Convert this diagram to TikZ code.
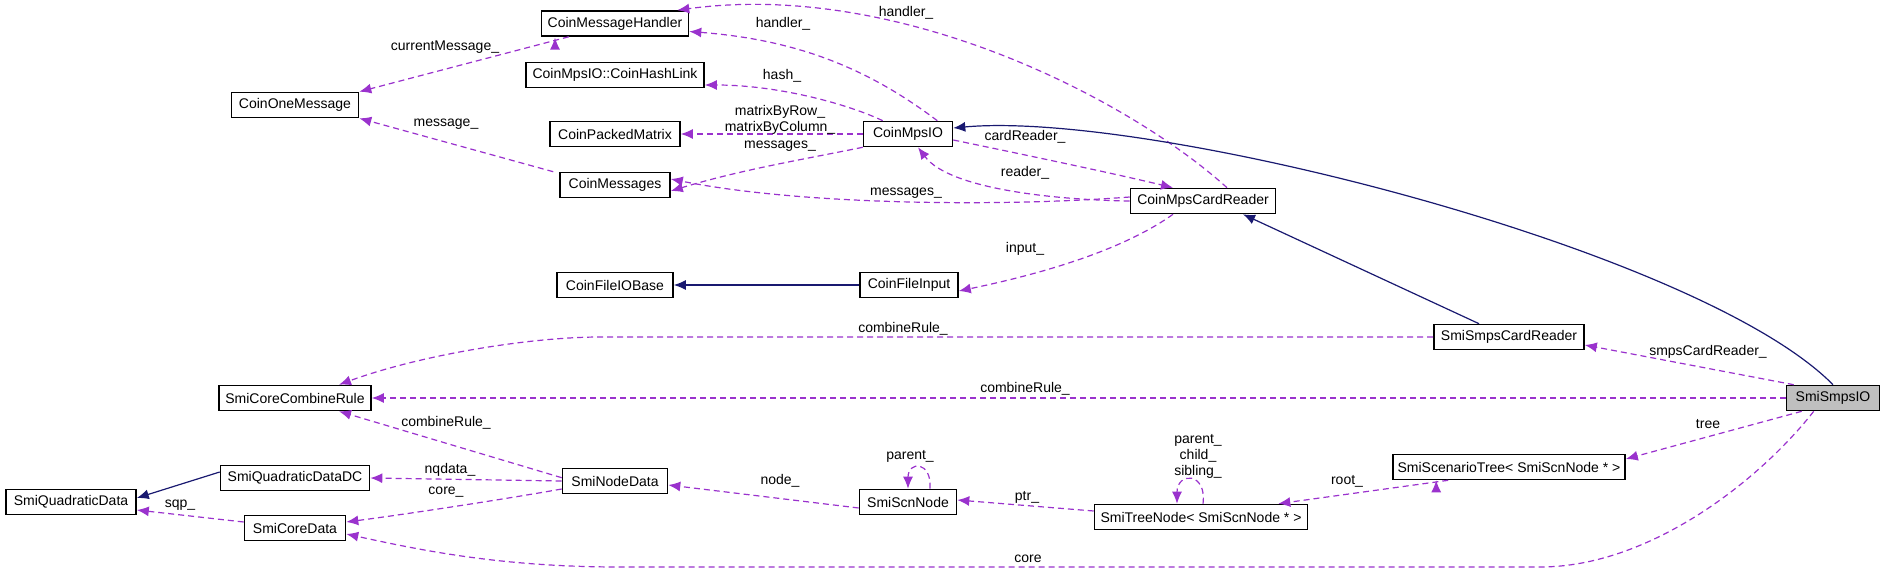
\documentclass[tikz,border=0pt]{standalone}
\usepackage{fontspec}
\setmainfont{Liberation Sans}
\usetikzlibrary{arrows.meta}
\definecolor{dep}{HTML}{9A32CD}
\definecolor{inh}{HTML}{191970}
\begin{document}
\begin{tikzpicture}[x=0.5pt,y=-0.5pt,
  cls/.style={draw,thick,fill=white,minimum height=12.5pt,inner sep=1pt,font=\fontsize{7}{8}\selectfont},
  dep/.style={draw=dep,dash pattern=on 3pt off 2pt,thick,-{Latex[length=6pt,width=5pt]},line width=0.6pt},
  inh/.style={draw=inh,-{Latex[length=6pt,width=5pt]},line width=0.6pt},
  lab/.style={font=\fontsize{7}{8}\selectfont,inner sep=0.5pt,align=center}]
\useasboundingbox (0,0) rectangle (1883,573);
% nodes
\node[cls,minimum width=73.5pt] (mh) at (615,23.5) {CoinMessageHandler};
\node[cls,minimum width=63.5pt] (om) at (295,105) {CoinOneMessage};
\node[cls,minimum width=89pt] (hl) at (615,75) {CoinMpsIO::CoinHashLink};
\node[cls,minimum width=65pt] (pm) at (615,134) {CoinPackedMatrix};
\node[cls,minimum width=55pt] (ms) at (615,185) {CoinMessages};
\node[cls,minimum width=58pt] (fb) at (615,285) {CoinFileIOBase};
\node[cls,minimum width=44.5pt] (io) at (908,134) {CoinMpsIO};
\node[cls,minimum width=72.5pt] (cr) at (1203,201) {CoinMpsCardReader};
\node[cls,minimum width=49pt] (fi) at (909,285) {CoinFileInput};
\node[cls,minimum width=76pt] (ccr) at (295,398) {SmiCoreCombineRule};
\node[cls,minimum width=74.5pt] (qdc) at (295,478) {SmiQuadraticDataDC};
\node[cls,minimum width=65pt] (qd) at (71,502) {SmiQuadraticData};
\node[cls,minimum width=50.5pt] (cd) at (295,528) {SmiCoreData};
\node[cls,minimum width=52.5pt] (nd) at (615,481) {SmiNodeData};
\node[cls,minimum width=48.5pt] (scn) at (908,502) {SmiScnNode};
\node[cls,minimum width=75pt] (scr) at (1509,337) {SmiSmpsCardReader};
\node[cls,minimum width=46.5pt,fill=black!25] (smps) at (1833,398) {SmiSmpsIO};
\node[cls,minimum width=116pt] (st) at (1509,467) {SmiScenarioTree< SmiScnNode * >};
\node[cls,minimum width=106.5pt] (tn) at (1201,517) {SmiTreeNode< SmiScnNode * >};
% edges
\draw[dep] (mh.south west) ++(14pt,0) coordinate (a1) -- (om.north east);
\draw[dep] (mh) ++(-60,14) coordinate (a1b);
\node[lab] (l1) at (445,47) {currentMessage\_};
\draw[dep] ([xshift=-3pt]ms.north west) -- (om.south east);
\node[lab] (l2) at (446,124) {message\_};
\draw[dep] ([xshift=-8pt]io.north east) .. controls (870,70) and (800,40) .. ([yshift=-4pt]mh.east);
\node[lab] (l3) at (783,24) {handler\_};
\draw[dep] ([xshift=10pt]io.north west) .. controls (850,105) and (780,85) .. ([yshift=-5pt]hl.east);
\node[lab] (l4) at (782,76) {hash\_};
\draw[dep] (io.west) -- (pm.east);
\node[lab] (l5) at (780,120) {matrixByRow\_\\matrixByColumn\_};
\draw[dep] (io.south west) .. controls (800,160) and (740,170) .. ([yshift=-3pt]ms.east);
\node[lab] (l6) at (780,146) {messages\_};
\draw[dep] ([yshift=2pt]cr.west) .. controls (1000,207) and (800,205) .. ([yshift=3pt]ms.east);
\node[lab] (l7) at (906,193) {messages\_};
\draw[dep] ([xshift=12pt]cr.north) .. controls (1130,100) and (900,-20) .. ([xshift=-6pt]mh.north east);
\node[lab] (l8) at (906,13) {handler\_};
\draw[dep] ([yshift=-3pt]io.east) .. controls (1050,160) and (1120,175) .. ([xshift=-15pt]cr.north);
\node[lab] (l9) at (1025,137) {cardReader\_};
\draw[dep] (cr.west) .. controls (1060,200) and (950,190) .. ([xshift=5pt]io.south);
\node[lab] (l10) at (1025,173) {reader\_};
\draw[dep] ([xshift=-15pt]cr.south) .. controls (1130,245) and (1060,270) .. ([yshift=-3pt]fi.east);
\node[lab] (l11) at (1025,249) {input\_};
\draw[inh] (fi.west) -- (fb.east);
\draw[inh] (smps.north) .. controls (1700,250) and (1150,110) .. ([yshift=3pt]io.east);
\draw[inh] ([xshift=-15pt]scr.north) -- ([xshift=20pt]cr.south);
\draw[dep] ([xshift=4pt]smps.north west) -- ([yshift=-4pt]scr.east);
\node[lab] (l15) at (1708,352) {smpsCardReader\_};
\draw[dep] (scr.west) -- (600,337) .. controls (530,337) and (420,355) .. ([xshift=22pt]ccr.north);
\node[lab] (l16) at (903,329) {combineRule\_};
\draw[dep] (smps.west) -- (ccr.east);
\node[lab] (l17) at (1025,389) {combineRule\_};
\draw[dep] ([yshift=-5pt]nd.north west) -- ([xshift=22pt]ccr.south);
\node[lab] (l18) at (446,423) {combineRule\_};
\draw[dep] (nd.west) -- (qdc.east);
\node[lab] (l19) at (450,470) {nqdata\_};
\draw[dep] ([yshift=-4pt]nd.west) .. controls (500,500) and (400,515) .. ([yshift=3pt]cd.east);
\node[lab] (l20) at (446,492) {core\_};
\draw[inh] ([yshift=3pt]qdc.west) -- ([yshift=2pt]qd.east);
\draw[dep] ([yshift=3pt]cd.west) -- ([yshift=-4pt]qd.east);
\node[lab] (l22) at (180,505) {sqp\_};
\draw[dep] ([yshift=-3pt]scn.west) -- ([yshift=-2pt]nd.east);
\node[lab] (l23) at (780,481) {node\_};
\draw[dep] ([xshift=11pt]scn.north) .. controls +(1pt,14pt) and +(0,14pt) .. (scn.north);
\node[lab] (l24) at (910,456) {parent\_};
\draw[dep] ([yshift=3pt]tn.west) -- ([yshift=1pt]scn.east);
\node[lab] (l25) at (1027,497) {ptr\_};
\draw[dep] ([xshift=1pt]tn.north) .. controls +(2pt,16pt) and +(0,16pt) .. ([xshift=-12pt]tn.north);
\node[lab] (l26) at (1198,456) {parent\_\\child\_\\sibling\_};
\draw[dep] ([xshift=-22pt]st.south west) ++(44pt,0) coordinate (sts);
\draw[dep] ([xshift=28pt]st.south west) -- ([xshift=-15pt]tn.north east);
\node[lab] (l27) at (1347,481) {root\_};
\draw[dep] ([xshift=8pt]smps.south west) -- ([yshift=4pt]st.east);
\node[lab] (l28) at (1708,424) {tree};
\draw[dep] ([xshift=14pt]smps.south west) .. controls (1760,480) and (1650,567) .. (1540,567) -- (620,567) .. controls (500,567) and (420,550) .. ([yshift=-3pt]cd.east);
\node[lab] (l29) at (1028,559) {core};
\end{tikzpicture}
\end{document}
